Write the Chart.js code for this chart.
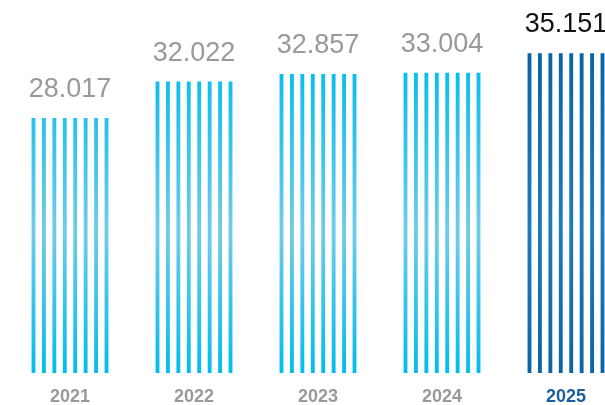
<!DOCTYPE html>
<html>
<head>
<meta charset="utf-8">
<script src="https://cdn.jsdelivr.net/npm/chart.js@4"></script>
<style>
  html, body { margin: 0; padding: 0; overflow: hidden; background: #ffffff; }
  #wrap { position: relative; width: 636px; height: 405px; }
</style>
</head>
<body>
<div id="wrap"><canvas id="c" width="636" height="405"></canvas></div>
<script>
const categories = ['2021', '2022', '2023', '2024', '2025'];
const values = [28017, 32022, 32857, 33004, 35151];
const stripeCount = 8;

const highlightIndex = 4;
const labelGray = '#999999';
const valueDark = '#111111';
const highlightLabel = '#1b5f9f';

function fmt(v) {
  const th = Math.floor(v / 1000);
  const rest = String(v % 1000).padStart(3, '0');
  return th + '.' + rest;
}

function stripeColor(ctx) {
  const chart = ctx.chart;
  const area = chart.chartArea;
  if (!area) return '#00bdee';
  const c = chart.ctx;
  if (!chart._grads) {
    const g1 = c.createLinearGradient(0, area.top + 50, 0, area.bottom);
    g1.addColorStop(0, '#00bdee');
    g1.addColorStop(0.55, '#70cce6');
    g1.addColorStop(1, '#00bdee');
    const g2 = c.createLinearGradient(0, area.top + 40, 0, area.bottom);
    g2.addColorStop(0, '#0a62a6');
    g2.addColorStop(0.55, '#1a7dbd');
    g2.addColorStop(1, '#0a64a8');
    chart._grads = [g1, g2];
  }
  return ctx.dataIndex === highlightIndex ? chart._grads[1] : chart._grads[0];
}

const datasets = [];
for (let i = 0; i < stripeCount; i++) {
  datasets.push({
    label: 'stripe ' + (i + 1),
    data: values,
    backgroundColor: stripeColor,
    borderWidth: 0,
    categoryPercentage: 0.673,
    barPercentage: 0.37
  });
}

const valueLabels = {
  id: 'valueLabels',
  afterDatasetsDraw(chart) {
    const c = chart.ctx;
    const xs = chart.scales.x, ys = chart.scales.y;
    c.save();
    c.font = '27px "Liberation Sans", Arial, sans-serif';
    c.textAlign = 'center';
    c.textBaseline = 'alphabetic';
    values.forEach((v, i) => {
      const x = xs.getPixelForValue(i);
      const y = ys.getPixelForValue(v);
      c.fillStyle = i === highlightIndex ? valueDark : labelGray;
      c.fillText(fmt(v), x, y - 21);
    });
    c.restore();
  }
};

new Chart(document.getElementById('c'), {
  type: 'bar',
  data: { labels: categories, datasets },
  options: {
    responsive: false,
    animation: false,
    layout: { padding: { top: 9, left: 8, right: 8, bottom: 0 } },
    plugins: { legend: { display: false }, tooltip: { enabled: false } },
    scales: {
      x: {
        grid: { display: false, drawTicks: false },
        border: { display: false },
        ticks: {
          padding: 13,
          font: { family: '"Liberation Sans", Arial, sans-serif', size: 18, weight: 'bold' },
          color: (ctx) => ctx.index === highlightIndex ? highlightLabel : labelGray
        },
        afterFit: (axis) => { axis.height = 32; }
      },
      y: {
        display: false,
        min: 0,
        max: 40000
      }
    }
  },
  plugins: [valueLabels]
});
</script>
</body>
</html>
